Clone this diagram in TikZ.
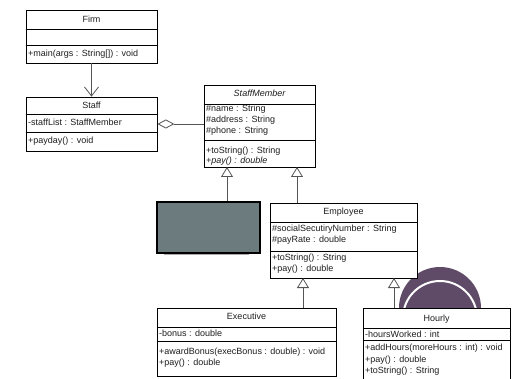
\documentclass[tikz,border=0pt]{standalone}
\usepackage{fontspec}
\setmainfont{Liberation Sans}
\usetikzlibrary{arrows.meta,calc}

\definecolor{wire}{HTML}{555555}
\definecolor{ink}{HTML}{1E1E1E}
\definecolor{slate}{HTML}{6C7B7D}
\definecolor{mauve}{HTML}{5F4B68}

\tikzset{
  cls/.style={draw=black, line width=0.75pt, fill=white, inner sep=0pt},
  sep/.style={draw=black, line width=0.65pt},
  ttl/.style={anchor=mid, inner sep=0pt, text=ink, font=\fontsize{9}{10}\selectfont},
  txt/.style={anchor=mid west, inner sep=0pt, text=ink, font=\fontsize{9}{10}\selectfont},
  gen/.style={draw=wire, line width=0.8pt,
    -{Triangle[length=10pt, width=12pt, fill=white, line width=0.8pt]}},
  dep/.style={draw=wire, line width=0.8pt,
    -{Straight Barb[length=9pt, width=14pt, line width=0.8pt]}},
  agg/.style={draw=wire, line width=0.8pt,
    {Diamond[length=17pt, width=9pt, fill=white, line width=0.8pt]}-},
}

\begin{document}
\begin{tikzpicture}[x=1pt, y=-1pt]
  \useasboundingbox (0,0) rectangle (516,379);
  \clip (0,0) rectangle (516,379);
  \fill[white] (0,0) rectangle (516,379);

  % round emblem behind the lower right classes
  \fill[mauve] (440,308) circle[radius=41];
  \draw[white, line width=2pt] (440,318) circle[radius=37];

  % Firm
  \node[cls, minimum width=131pt, minimum height=53pt] (firm) at (91.5,36.5) {};
  \draw[sep] (firm.west |- 0,29) -- (firm.east |- 0,29);
  \draw[sep] (firm.west |- 0,45) -- (firm.east |- 0,45);
  \node[ttl] (firm-t) at (firm.center |- 0,20) {Firm};
  \node[txt] (firm-m1) at (28,54) {+main(args : String[]) : void};

  % Staff
  \node[cls, minimum width=131pt, minimum height=54pt] (staff) at (91.5,124) {};
  \draw[sep] (staff.west |- 0,114) -- (staff.east |- 0,114);
  \draw[sep] (staff.west |- 0,132) -- (staff.east |- 0,132);
  \node[ttl] (staff-t) at (staff.center |- 0,106) {Staff};
  \node[txt] (staff-a1) at (28,123) {-staffList : StaffMember};
  \node[txt] (staff-m1) at (28,141) {+payday() : void};

  % StaffMember
  \node[cls, minimum width=111pt, minimum height=82pt] (member) at (259.5,126) {};
  \draw[sep] (member.west |- 0,104) -- (member.east |- 0,104);
  \draw[sep] (member.west |- 0,140) -- (member.east |- 0,140);
  \node[ttl, font=\fontsize{9}{10}\selectfont\itshape] (member-t) at (member.center |- 0,94) {StaffMember};
  \node[txt] (member-a1) at (206,109) {\#name : String};
  \node[txt] (member-a2) at (206,120) {\#address : String};
  \node[txt] (member-a3) at (206,131) {\#phone : String};
  \node[txt] (member-m1) at (206,151) {+toString() : String};
  \node[txt, font=\fontsize{9}{10}\selectfont\itshape] (member-m2) at (206,161) {+pay() : double};

  % blank slate-coloured class
  \draw[gray!65, line width=1.4pt] (164,254.6) -- (249,254.6);
  \node[draw=black, line width=1.5pt, fill=slate, inner sep=0pt,
        minimum width=103pt, minimum height=51pt] (blank) at (208.5,227.5) {};

  % Employee
  \node[cls, minimum width=147pt, minimum height=75pt] (employee) at (343.5,240.5) {};
  \draw[sep] (employee.west |- 0,222) -- (employee.east |- 0,222);
  \draw[sep] (employee.west |- 0,251) -- (employee.east |- 0,251);
  \node[ttl] (employee-t) at (employee.center |- 0,212) {Employee};
  \node[txt] (employee-a1) at (272,229) {\#socialSecutiryNumber : String};
  \node[txt] (employee-a2) at (272,240) {\#payRate : double};
  \node[txt] (employee-m1) at (272,258) {+toString() : String};
  \node[txt] (employee-m2) at (272,269) {+pay() : double};

  % Executive
  \node[cls, minimum width=179pt, minimum height=68pt] (executive) at (246.5,342) {};
  \draw[sep] (executive.west |- 0,327) -- (executive.east |- 0,327);
  \draw[sep] (executive.west |- 0,341) -- (executive.east |- 0,341);
  \node[ttl] (executive-t) at (executive.center |- 0,317) {Executive};
  \node[txt] (executive-a1) at (159,334) {-bonus : double};
  \node[txt] (executive-m1) at (159,352) {+awardBonus(execBonus : double) : void};
  \node[txt] (executive-m2) at (159,363) {+pay() : double};

  % Hourly
  \node[cls, minimum width=147pt, minimum height=84pt] (hourly) at (436.5,350) {};
  \draw[sep] (hourly.west |- 0,328) -- (hourly.east |- 0,328);
  \draw[sep] (hourly.west |- 0,340) -- (hourly.east |- 0,340);
  \node[ttl] (hourly-t) at (hourly.center |- 0,319) {Hourly};
  \node[txt] (hourly-a1) at (365,335) {-hoursWorked : int};
  \node[txt] (hourly-m1) at (365,348) {+addHours(moreHours : int) : void};
  \node[txt] (hourly-m2) at (365,360) {+pay() : double};
  \node[txt] (hourly-m3) at (365,371) {+toString() : String};

  % ports for the inheritance arrows
  \coordinate (pm1) at (227,167);
  \coordinate (pm2) at (297,167);
  \coordinate (pe1) at (303,278);
  \coordinate (pe2) at (394,278);

  % connectors
  \draw[dep] (firm.south) -- (staff.north);
  \draw[agg] (staff.east) -- (staff.east -| member.west);
  \draw[gen] (blank.north -| pm1) -- (pm1);
  \draw[gen] (employee.north -| pm2) -- (pm2);
  \draw[gen] (executive.north -| pe1) -- (pe1);
  \draw[gen] (hourly.north -| pe2) -- (pe2);
\end{tikzpicture}
\end{document}
